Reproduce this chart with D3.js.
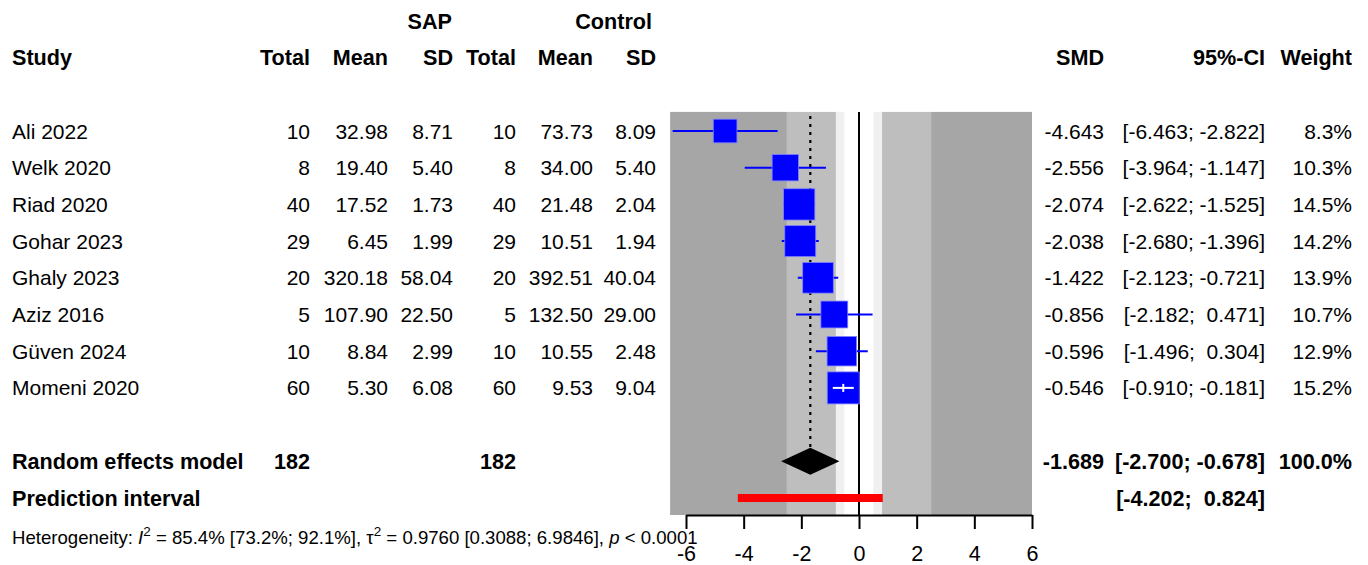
<!DOCTYPE html>
<html>
<head>
<meta charset="utf-8">
<script src="https://cdn.jsdelivr.net/npm/d3@7"></script>
<style>
  body { margin: 0; background: #fff; }
  svg text { font-family: Arial, "Liberation Sans", sans-serif; fill: #000; white-space: pre; }
  .bold { font-weight: bold; }
</style>
</head>
<body>
<div id="graphContainer"></div>
<script>
var W = 1368, H = 565;

// study level data
var studies = ["Ali 2022", "Welk 2020", "Riad 2020", "Gohar 2023", "Ghaly 2023", "Aziz 2016", "Güven 2024", "Momeni 2020"]
var totalE = [10, 8, 40, 29, 20, 5, 10, 60]
var meanE = [32.98, 19.40, 17.52, 6.45, 320.18, 107.90, 8.84, 5.30]
var sdE = [8.71, 5.40, 1.73, 1.99, 58.04, 22.50, 2.99, 6.08]
var totalC = [10, 8, 40, 29, 20, 5, 10, 60]
var meanC = [73.73, 34.00, 21.48, 10.51, 392.51, 132.50, 10.55, 9.53]
var sdC = [8.09, 5.40, 2.04, 1.94, 40.04, 29.00, 2.48, 9.04]
var smd = [-4.643, -2.556, -2.074, -2.038, -1.422, -0.856, -0.596, -0.546]
var lower = [-6.463, -3.964, -2.622, -2.680, -2.123, -2.182, -1.496, -0.910]
var upper = [-2.822, -1.147, -1.525, -1.396, -0.721, 0.471, 0.304, -0.181]
var weight = [8.3, 10.3, 14.5, 14.2, 13.9, 10.7, 12.9, 15.2]

// pooled results
var pooledTotals = [182, 182]
var pooled = {smd: -1.689, lower: -2.700, upper: -0.678, weight: 100.0}
var predInt = [-4.202, 0.824]

// axis + shaded effect size regions
var xTicks = [-6, -4, -2, 0, 2, 4, 6]
var bandEdges = [-6.55, -2.5, -0.8, -0.5, 0.5, 0.8, 2.5, 6]
var bandColors = ["#a6a6a6", "#bebebe", "#f0f0f0", "#ffffff", "#f0f0f0", "#bebebe", "#a6a6a6"]

var svg = d3.select("#graphContainer").append("svg")
  .attr("width", W)
  .attr("height", H)

var x = d3.scaleLinear().domain([-6, 6]).range([686, 1032])
// row index -> vertical centre (rows 0..7 studies, 9 pooled, 10 prediction)
var row = d3.scaleLinear().domain([0, 1]).range([131, 167.7])
var boxSize = d3.scaleSqrt().domain([0, 15.2]).range([0, 32])

var plotTop = row(-0.52), plotBottom = 515

function fmt(v, d){
  return v.toFixed(d)
}
function ci(lo, hi){
  var pad = function(v){ return (v < 0 ? "" : " ") + v.toFixed(3) }
  return "[" + pad(lo) + "; " + pad(hi) + "]"
}

// ---- shaded regions
svg.selectAll(".band")
  .data(d3.pairs(bandEdges))
  .enter().append("rect")
    .attr("class", "band")
    .attr("x", function(d){ return x(d[0]) })
    .attr("width", function(d){ return x(d[1]) - x(d[0]) })
    .attr("y", plotTop)
    .attr("height", plotBottom - plotTop)
    .style("fill", function(d, i){ return bandColors[i] })

// ---- line of no effect
svg.append("line")
  .attr("x1", x(0)).attr("x2", x(0))
  .attr("y1", plotTop).attr("y2", plotBottom)
  .style("stroke", "#000")
  .style("stroke-width", 2)

// ---- pooled estimate dotted line
svg.append("line")
  .attr("x1", x(pooled.smd)).attr("x2", x(pooled.smd))
  .attr("y1", plotTop + 4).attr("y2", row(9) - 14)
  .style("stroke", "#000")
  .style("stroke-width", 2.2)
  .style("stroke-dasharray", "3,5")

// ---- study CIs and boxes
var idx = d3.range(studies.length)

svg.selectAll(".ci")
  .data(idx)
  .enter().append("line")
    .attr("class", "ci")
    .attr("x1", function(i){ return x(lower[i]) })
    .attr("x2", function(i){ return x(upper[i]) })
    .attr("y1", function(i){ return row(i) })
    .attr("y2", function(i){ return row(i) })
    .style("stroke", "#0000ff")
    .style("stroke-width", 2)

svg.selectAll(".box")
  .data(idx)
  .enter().append("rect")
    .attr("class", "box")
    .attr("x", function(i){ return x(smd[i]) - boxSize(weight[i]) / 2 })
    .attr("y", function(i){ return row(i) - boxSize(weight[i]) / 2 })
    .attr("width", function(i){ return boxSize(weight[i]) })
    .attr("height", function(i){ return boxSize(weight[i]) })
    .style("fill", "#0000ff")
    .style("stroke", "#7f7fff")
    .style("stroke-width", 0.8)

// CI fully inside the box -> drawn in white on top
var inside = idx.filter(function(i){ return x(upper[i]) - x(lower[i]) < boxSize(weight[i]) })
svg.selectAll(".ciw")
  .data(inside)
  .enter().append("g")
    .attr("class", "ciw")
    .each(function(i){
      var g = d3.select(this)
      g.append("line")
        .attr("x1", x(lower[i])).attr("x2", x(upper[i]))
        .attr("y1", row(i)).attr("y2", row(i))
        .style("stroke", "#fff").style("stroke-width", 2)
      g.append("line")
        .attr("x1", x(smd[i])).attr("x2", x(smd[i]))
        .attr("y1", row(i) - 4).attr("y2", row(i) + 4)
        .style("stroke", "#fff").style("stroke-width", 2)
    })

// ---- diamond
var dh = 13.5
svg.append("path")
  .attr("d", "M" + x(pooled.lower) + "," + row(9) +
             "L" + x(pooled.smd) + "," + (row(9) - dh) +
             "L" + x(pooled.upper) + "," + row(9) +
             "L" + x(pooled.smd) + "," + (row(9) + dh) + "Z")
  .style("fill", "#000")

// ---- prediction interval
svg.append("rect")
  .attr("x", x(predInt[0]))
  .attr("width", x(predInt[1]) - x(predInt[0]))
  .attr("y", row(10) - 4)
  .attr("height", 8)
  .style("fill", "#ff0000")

// ---- x axis
var axis = svg.append("g")
  .attr("class", "x axis")
  .attr("transform", "translate(0," + plotBottom + ")")
  .call(d3.axisBottom(x).tickValues(xTicks).tickSize(14).tickSizeOuter(0).tickFormat(function(d){ return d < 0 ? "-" + Math.abs(d) : d }))
axis.select(".domain").style("stroke", "#000").style("stroke-width", 2)
axis.selectAll(".tick line").style("stroke", "#000").style("stroke-width", 2)
axis.selectAll(".tick text")
  .attr("y", 31)
  .style("font-size", "21.5px")
  .style("font-family", "Arial, 'Liberation Sans', sans-serif")
  .style("fill", "#000")

// ---- text columns
var cols = [
  {x: 310, lab: "Total"},
  {x: 388, lab: "Mean"},
  {x: 453, lab: "SD"},
  {x: 516, lab: "Total"},
  {x: 593, lab: "Mean"},
  {x: 656, lab: "SD"}
]

function txt(xx, y, s, anchor, bold, size){
  return svg.append("text")
    .attr("x", xx)
    .attr("y", y)
    .attr("dy", "0.36em")
    .attr("text-anchor", anchor || "start")
    .attr("class", bold ? "bold" : null)
    .style("font-size", (size || (bold ? 21.6 : 21)) + "px")
    .text(s)
}

// headers
txt(452, row(-3), "SAP", "end", true)
txt(652, row(-3), "Control", "end", true)
txt(12, row(-2), "Study", "start", true)
cols.forEach(function(c){ txt(c.x, row(-2), c.lab, "end", true) })
txt(1104, row(-2), "SMD", "end", true)
txt(1265, row(-2), "95%-CI", "end", true)
txt(1352, row(-2), "Weight", "end", true)

// study rows
idx.forEach(function(i){
  var y = row(i)
  txt(12, y, studies[i])
  txt(cols[0].x, y, totalE[i], "end")
  txt(cols[1].x, y, fmt(meanE[i], 2), "end")
  txt(cols[2].x, y, fmt(sdE[i], 2), "end")
  txt(cols[3].x, y, totalC[i], "end")
  txt(cols[4].x, y, fmt(meanC[i], 2), "end")
  txt(cols[5].x, y, fmt(sdC[i], 2), "end")
  txt(1104, y, fmt(smd[i], 3), "end")
  txt(1265, y, ci(lower[i], upper[i]), "end")
  txt(1352, y, fmt(weight[i], 1) + "%", "end")
})

// pooled rows
txt(12, row(9), "Random effects model", "start", true)
txt(cols[0].x, row(9), pooledTotals[0], "end", true)
txt(cols[3].x, row(9), pooledTotals[1], "end", true)
txt(1104, row(9), fmt(pooled.smd, 3), "end", true)
txt(1265, row(9), ci(pooled.lower, pooled.upper), "end", true)
txt(1352, row(9), fmt(pooled.weight, 1) + "%", "end", true)

txt(12, row(10), "Prediction interval", "start", true)
txt(1265, row(10), ci(predInt[0], predInt[1]), "end", true)

// heterogeneity line
var het = svg.append("text")
  .attr("x", 12)
  .attr("y", 544)
  .style("font-size", "18.6px")
het.append("tspan").text("Heterogeneity: ")
het.append("tspan").style("font-style", "italic").text("I")
het.append("tspan").attr("dy", -8).style("font-size", "13.5px").text("2")
het.append("tspan").attr("dy", 8).text(" = 85.4% [73.2%; 92.1%], τ")
het.append("tspan").attr("dy", -8).style("font-size", "13.5px").text("2")
het.append("tspan").attr("dy", 8).text(" = 0.9760 [0.3088; 6.9846], ")
het.append("tspan").style("font-style", "italic").text("p")
het.append("tspan").text(" < 0.0001")
</script>
</body>
</html>
